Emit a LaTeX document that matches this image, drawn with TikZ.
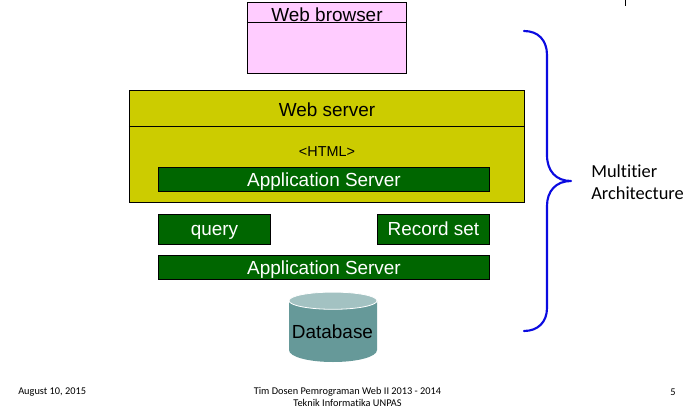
\documentclass[tikz,border=0pt]{standalone}
\usepackage{fontspec}
\setmainfont{Liberation Sans}
\newfontfamily\calib[Ligatures=NoCommon]{Carlito}
\definecolor{pinkbox}{HTML}{FFCCFF}
\definecolor{olivebox}{HTML}{CCCC00}
\definecolor{greenbox}{HTML}{006600}
\definecolor{dbbody}{HTML}{669999}
\definecolor{dbtop}{HTML}{A3C2C2}
\definecolor{bracecol}{HTML}{0B0BE0}
\tikzset{
  panel/.style={draw=black,line width=0.8pt,inner sep=0pt,anchor=center},
  pinkpanel/.style={panel,fill=pinkbox,text=black},
  olivepanel/.style={panel,fill=olivebox,text=black},
  greenpanel/.style={panel,fill=greenbox,text=white,font=\fontsize{14.2}{16}\selectfont,text height=11.5pt,text depth=1.75pt},
  shortpanel/.style={greenpanel,text height=10.75pt,text depth=2pt},
  title/.style={font=\fontsize{14.2}{16}\selectfont},
  footer/.style={font=\calib\fontsize{7.75}{9}\selectfont,align=center,text=black},
  plainlabel/.style={inner sep=0pt}
}
\begin{document}
\begin{tikzpicture}[x=0.75pt,y=-0.75pt]
\useasboundingbox (0,0) rectangle (687,411);
% browser
\node[pinkpanel,minimum width=119.25pt,minimum height=53.25pt] (browser) at (327,37.75) {};
\coordinate (bl) at (browser.north west|-0,22.5);
\coordinate (br) at (browser.north east|-0,22.5);
\draw[line width=0.8pt] (bl) -- (br);
\node[plainlabel,title] (browsertext) at (327,15) {Web browser};
% web server
\node[olivepanel,minimum width=296.25pt,minimum height=84pt] (server) at (327,146.5) {};
\coordinate (sl) at (server.north west|-0,126.5);
\coordinate (sr) at (server.north east|-0,126.5);
\draw[line width=0.8pt] (sl) -- (sr);
\node[plainlabel,title] (servertext) at (327,110) {Web server};
\node[plainlabel,font=\fontsize{10.8}{12}\selectfont] (html) at (327,152) {<HTML>};
\node[greenpanel,minimum width=248.25pt,minimum height=18pt] (app1) at (324,179.5) {Application Server};
\node[shortpanel,minimum width=84pt,minimum height=22.5pt] (query) at (214.5,229.5) {query};
\node[shortpanel,minimum width=84pt,minimum height=22.5pt] (record) at (433.5,229.5) {Record set};
\node[greenpanel,minimum width=248.25pt,minimum height=18pt] (app2) at (324,267.5) {Application Server};
% database
\fill[dbbody] (289,301) -- (289,350) .. controls (289,357) and (309,362) .. (333,362) .. controls (357,362) and (377,357) .. (377,350) -- (377,301) -- cycle;
\draw[white,line width=0.6pt,fill=dbtop] (333,300.7) ellipse [x radius=44, y radius=8.6];
\node[plainlabel,title] (db) at (332.5,332) {Database};
% brace
\draw[bracecol,line width=1.6pt,line cap=round,line join=round]
  (524,31) .. controls (538,31) and (547,40) .. (547,55)
  -- (547,155) .. controls (547,171) and (556,181) .. (571,181)
  .. controls (556,181) and (547,191) .. (547,206)
  -- (547,308) .. controls (547,322) and (538,331) .. (524,331);
\node[plainlabel,anchor=west,align=left,font=\calib\fontsize{13.8}{16.5}\selectfont] (multi) at (591,182) {Multitier\\Architecture};
% tick
\coordinate (t1) at (625.6,0);
\coordinate (t2) at (625.6,6);
\draw[line width=0.6pt] (t1) -- (t2);
% footer
\node[footer,anchor=west,inner sep=0pt] (date) at (18,392) {August 10, 2015};
\node[footer,inner sep=0pt] (foot) at (347.5,397) {Tim Dosen Pemrograman Web II 2013 - 2014\\Teknik Informatika UNPAS};
\node[footer,inner sep=0pt] (page) at (673,392) {5};
\end{tikzpicture}
\end{document}
